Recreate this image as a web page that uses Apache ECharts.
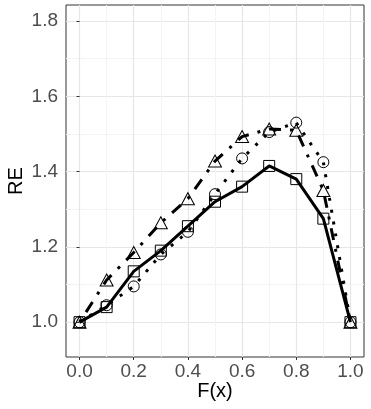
<!DOCTYPE html>
<html>
<head>
<meta charset="utf-8">
<script src="https://cdn.jsdelivr.net/npm/echarts@6/dist/echarts.min.js"></script>
<style>
  html, body { margin: 0; padding: 0; background: #fff; }
  #chart { width: 371px; height: 409px; }
</style>
</head>
<body>
<div id="chart"></div>
<script>
// F(x) grid and the three RE curves
const fx = [0.0, 0.1, 0.2, 0.3, 0.4, 0.5, 0.6, 0.7, 0.8, 0.9, 1.0];
const reSolid = [1.0, 1.04, 1.135, 1.19, 1.255, 1.32, 1.36, 1.415, 1.38, 1.275, 1.0];
const reDotDash = [1.0, 1.112, 1.185, 1.264, 1.328, 1.428, 1.493, 1.513, 1.51, 1.35, 1.0];
const reDotted = [1.0, 1.045, 1.095, 1.18, 1.24, 1.34, 1.435, 1.505, 1.53, 1.425, 1.0];

const xTicks = [0.0, 0.2, 0.4, 0.6, 0.8, 1.0];
const xMinor = [0.1, 0.3, 0.5, 0.7, 0.9];
const yTicks = [1.0, 1.2, 1.4, 1.6, 1.8];
const yMinor = [1.1, 1.3, 1.5, 1.7];

const FONT = '"Liberation Sans", Arial, sans-serif';
const chart = echarts.init(document.getElementById('chart'), null, { renderer: 'canvas' });

const pairs = ys => fx.map((x, i) => [x, ys[i]]);

const hollow = { color: 'rgba(0,0,0,0)', borderColor: '#000', borderWidth: 1 };

function mainAxis(ticks, extra) {
  return Object.assign({
    type: 'value',
    axisLine: { show: false },
    axisTick: { show: true, length: 3, customValues: ticks, lineStyle: { color: '#333', width: 1 } },
    axisLabel: {
      customValues: ticks,
      color: '#4d4d4d',
      fontSize: 19,
      fontFamily: FONT,
      margin: 8,
      formatter: v => v.toFixed(1)
    },
    splitLine: { show: true, lineStyle: { color: '#e6e6e6', width: 1.2 } },
    nameLocation: 'middle',
    nameMoveOverlap: false,
    nameTextStyle: { color: '#000', fontSize: 20, fontFamily: FONT }
  }, extra);
}

function minorAxis(ticks, extra) {
  return Object.assign({
    type: 'value',
    axisLine: { show: false },
    axisTick: { show: false, customValues: ticks },
    axisLabel: { show: false, customValues: ticks },
    splitLine: { show: true, lineStyle: { color: '#f3f3f3', width: 1 } }
  }, extra);
}

const option = {
  backgroundColor: '#fff',
  animation: false,
  grid: {
    left: 66, right: 7, top: 5, bottom: 52,
    outerBoundsMode: 'none',
    containLabel: false,
    show: true, borderColor: '#333', borderWidth: 1, backgroundColor: 'transparent'
  },
  xAxis: [
    mainAxis(xTicks, { min: -0.05, max: 1.05, name: 'F(x)', nameGap: 24,
      axisLabel: { customValues: xTicks, color: '#4d4d4d', fontSize: 19, fontFamily: FONT, margin: 5,
        formatter: v => v.toFixed(1) } }),
    minorAxis(xMinor, { min: -0.05, max: 1.05, position: 'bottom' })
  ],
  yAxis: [
    mainAxis(yTicks, { min: 0.9075, max: 1.8425, name: 'RE', nameGap: 40 }),
    minorAxis(yMinor, { min: 0.9075, max: 1.8425, position: 'left' })
  ],
  series: [
    {
      type: 'line',
      data: pairs(reSolid),
      symbol: 'rect',
      symbolSize: 11,
      itemStyle: hollow,
      lineStyle: { color: '#000', width: 3, type: 'solid' },
      z: 3
    },
    {
      type: 'line',
      data: pairs(reDotDash),
      symbol: 'triangle',
      symbolSize: [13, 12],
      itemStyle: hollow,
      lineStyle: { color: '#000', width: 3, type: [3, 9, 12, 9], cap: 'butt' },
      z: 3
    },
    {
      type: 'line',
      data: pairs(reDotted),
      symbol: 'circle',
      symbolSize: 11,
      itemStyle: hollow,
      lineStyle: { color: '#000', width: 3, type: [3, 9], cap: 'butt' },
      z: 3
    }
  ]
};

chart.setOption(option);
window.addEventListener('resize', () => chart.resize());
</script>
</body>
</html>
